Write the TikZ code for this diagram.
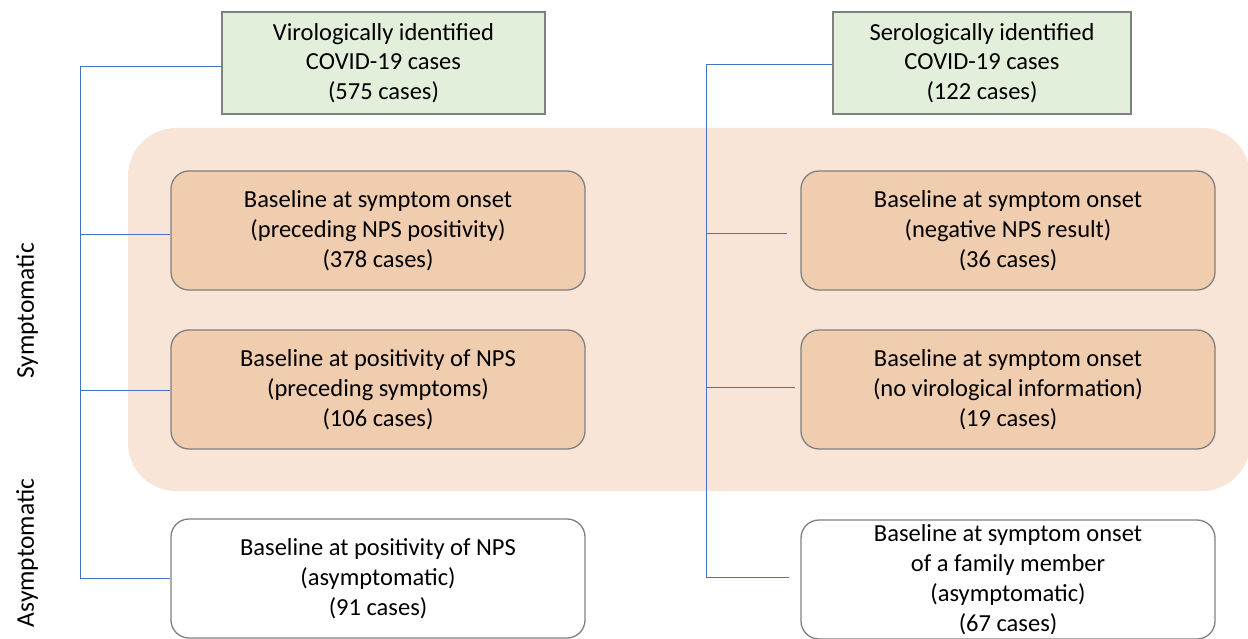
\documentclass[tikz,border=0pt]{standalone}
\usepackage{fontspec}
\setmainfont{Carlito}
\definecolor{gfill}{HTML}{E2EFDA}
\definecolor{ofill}{HTML}{F1CDB0}
\definecolor{bgfill}{HTML}{F8E5D8}
\definecolor{bline}{HTML}{4472C4}
\definecolor{gborder}{HTML}{808080}
\tikzset{
  box/.style={draw=gborder, line width=1.3pt, minimum width=414pt, minimum height=119pt,
    align=center, font=\fontsize{24.5}{30}\selectfont, inner sep=0pt},
  greenbox/.style={draw=gborder, line width=1.3pt, fill=gfill, minimum width=323pt, minimum height=102pt,
    align=center, font=\fontsize{24.5}{29.5}\selectfont, inner sep=0pt},
  obox/.style={box, fill=ofill, rounded corners=18pt},
  wbox/.style={box, fill=white, rounded corners=18pt},
  conn/.style={draw=bline, line width=0.8pt},
  side/.style={rotate=90, font=\fontsize{25.5}{30}\selectfont}
}
\begin{document}
\begin{tikzpicture}[x=1pt,y=-1pt]
\useasboundingbox (0,0) rectangle (1248,639);
\fill[bgfill, rounded corners=48pt] (128,128) rectangle (1250,491);
% left column
\node[greenbox] (g1) at (383.5,63) {Virologically identified\\COVID-19 cases\\(575 cases)};
\node[obox] (o1) at (378,230.5) {Baseline at symptom onset\\(preceding NPS positivity)\\(378 cases)};
\node[obox] (o2) at (378,389.5) {Baseline at positivity of NPS\\(preceding symptoms)\\(106 cases)};
\node[wbox] (w1) at (378,578.5) {Baseline at positivity of NPS\\(asymptomatic)\\(91 cases)};
% right column
\node[greenbox, minimum width=298pt] (g2) at (982,63) {Serologically identified\\COVID-19 cases\\(122 cases)};
\node[obox] (o3) at (1008,230.5) {Baseline at symptom onset\\(negative NPS result)\\(36 cases)};
\node[obox] (o4) at (1008,389.5) {Baseline at symptom onset\\(no virological information)\\(19 cases)};
\node[wbox] (w2) at (1008,579.5) {Baseline at symptom onset\\of a family member\\(asymptomatic)\\(67 cases)};
% side labels
\node[side] (s1) at (27,311) {Symptomatic};
\node[side] (s2) at (27,553) {Asymptomatic};
% left connectors
\coordinate (a1) at (80,66);
\coordinate (a2) at (80,234);
\coordinate (a3) at (80,390);
\coordinate (a4) at (80,578);
\draw[conn] (a1) -- (a4);
\draw[conn] (a1) -- (a1 -| g1.west);
\draw[conn] (a2) -- (a2 -| o1.west);
\draw[conn] (a3) -- (a3 -| o2.west);
\draw[conn] (a4) -- (a4 -| w1.west);
% right connectors
\coordinate (b1) at (706,64);
\coordinate (b2) at (706,233);
\coordinate (b3) at (706,387);
\coordinate (b4) at (706,577);
\coordinate (e2) at (787,233);
\coordinate (e3) at (795,387);
\coordinate (e4) at (789,577);
\draw[conn] (b1) -- (b4);
\draw[conn] (b1) -- (b1 -| g2.west);
\draw[conn] (b2) -- (e2);
\draw[conn] (b3) -- (e3);
\draw[conn] (b4) -- (e4);
\end{tikzpicture}
\end{document}
